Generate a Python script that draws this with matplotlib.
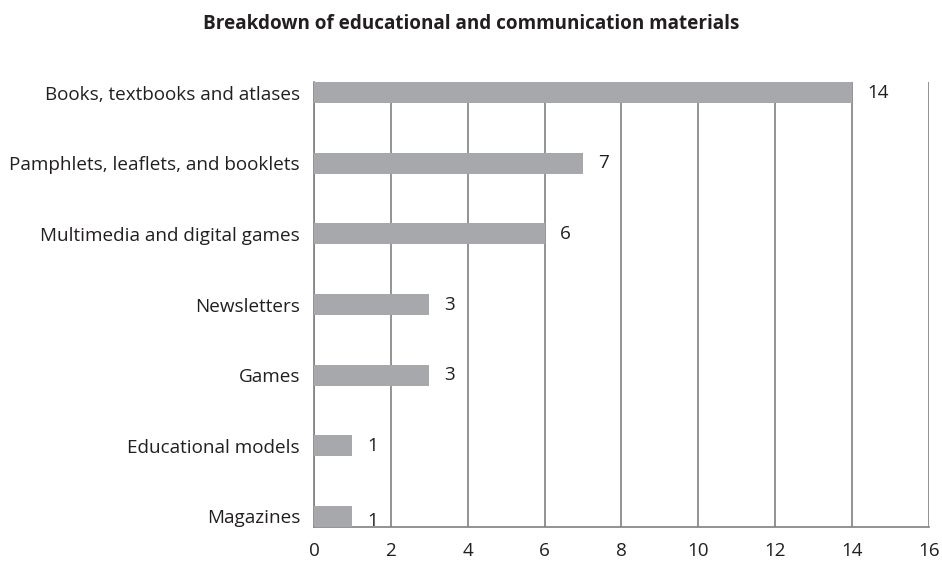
import matplotlib.pyplot as plt

# 教育与传播材料分类统计
categories = ["Books, textbooks and atlases", "Pamphlets, leaflets, and booklets",
              "Multimedia and digital games", "Newsletters", "Games",
              "Educational models", "Magazines"]
counts = [14, 7, 6, 3, 3, 1, 1]
xticks = [0, 2, 4, 6, 8, 10, 12, 14, 16]

plt.rcParams['font.family'] = ['Open Sans', 'DejaVu Sans']
txt = '#231f20'
fs = 13.6

fig = plt.figure(figsize=(9.42, 5.64), dpi=100)
ax = fig.add_axes([0.3333, 0.0656, 0.6529, 0.789])

# 从上往下画
ypos = list(range(len(categories)))[::-1]
ax.barh(ypos, counts, height=0.3, color='#a7a8ab', zorder=3)

for y, v in zip(ypos, counts):
    # 最底下那个数字压在轴线上，稍微往下挪一点
    dy = -0.07 if y == 0 else 0
    ax.text(v + 0.4, y + dy, str(v), va='center', ha='left', fontsize=fs, color=txt)

ax.set_xlim(0, 16)
ax.set_ylim(-0.15, 6.15)
ax.set_xticks(xticks)
ax.set_yticks(ypos)
ax.set_yticklabels(categories)
ax.tick_params(axis='both', length=0, labelsize=fs, colors=txt)
ax.tick_params(axis='y', pad=10)
ax.tick_params(axis='x', pad=11)

ax.grid(axis='x', color='#808080', linewidth=1.2, zorder=0)
ax.grid(axis='y', visible=False)
for s in ['top', 'right']:
    ax.spines[s].set_visible(False)
for s in ['left', 'bottom']:
    ax.spines[s].set_color('#808080')
    ax.spines[s].set_linewidth(1.2)

fig.suptitle("Breakdown of educational and communication materials",
             x=0.5, y=0.975, fontsize=fs, fontweight='bold', color=txt)

plt.savefig('out.png', dpi=100)
